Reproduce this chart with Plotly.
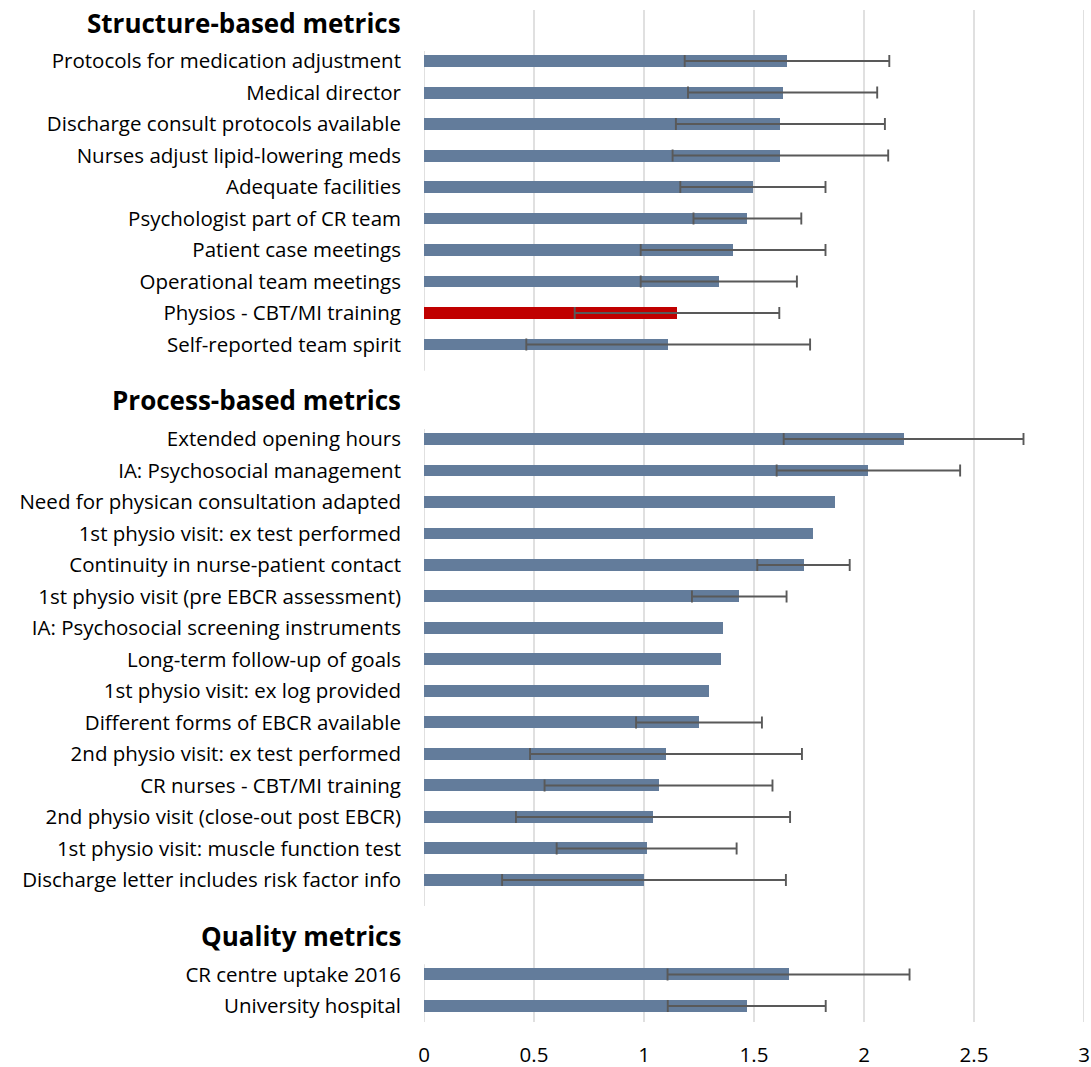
import plotly.graph_objects as go

# ---- data -------------------------------------------------------------
structure_labels = [
    "Protocols for medication adjustment",
    "Medical director",
    "Discharge consult protocols available",
    "Nurses adjust lipid-lowering meds",
    "Adequate facilities",
    "Psychologist part of CR team",
    "Patient case meetings",
    "Operational team meetings",
    "Physios - CBT/MI training",
    "Self-reported team spirit",
]
structure_means = [1.65, 1.63, 1.62, 1.62, 1.495, 1.47, 1.405, 1.34, 1.15, 1.11]
structure_err = [0.465, 0.43, 0.475, 0.49, 0.33, 0.245, 0.42, 0.355, 0.465, 0.645]

process_labels = [
    "Extended opening hours",
    "IA: Psychosocial management",
    "Need for physican consultation adapted",
    "1st physio visit: ex test performed",
    "Continuity in nurse-patient contact",
    "1st physio visit (pre EBCR assessment)",
    "IA: Psychosocial screening instruments",
    "Long-term follow-up of goals",
    "1st physio visit: ex log provided",
    "Different forms of EBCR available",
    "2nd physio visit: ex test performed",
    "CR nurses - CBT/MI training",
    "2nd physio visit (close-out post EBCR)",
    "1st physio visit: muscle function test",
    "Discharge letter includes risk factor info",
]
process_means = [2.18, 2.02, 1.87, 1.77, 1.725, 1.433, 1.36, 1.35, 1.295,
                 1.25, 1.10, 1.066, 1.041, 1.012, 1.00]
process_err = [0.545, 0.417, None, None, 0.21, 0.215, None, None, None,
               0.286, 0.618, 0.518, 0.623, 0.409, 0.645]

quality_labels = ["CR centre uptake 2016", "University hospital"]
quality_means = [1.657, 1.467]
quality_err = [0.55, 0.359]

group_titles = ["Structure-based metrics", "Process-based metrics", "Quality metrics"]
highlighted = "Physios - CBT/MI training"

x_tick_values = [0, 0.5, 1, 1.5, 2, 2.5, 3]
x_tick_text = ["0", "0.5", "1", "1.5", "2", "2.5", "3"]

# ---- styling ------------------------------------------------------------
FONT = "'Open Sans', Lato, sans-serif"
LABEL_SIZE = 20.5
HEADER_SIZE = 26
BAR_COLOR = "#637C9B"
HIGHLIGHT_COLOR = "#C00000"
ERR_COLOR = "#595959"
GRID_COLOR = "#D9D9D9"

groups = [
    (group_titles[0], structure_labels, structure_means, structure_err),
    (group_titles[1], process_labels, process_means, process_err),
    (group_titles[2], quality_labels, quality_means, quality_err),
]

# ---- row layout: spacer, header, rows for every group -------------------
row_pos, row_label, row_mean, row_err = [], [], [], []
header_pos, axis_segments = [], []
slot = -1
for gi, (title, labels, means, errs) in enumerate(groups):
    if gi > 0:
        slot += 1            # empty spacer row
    header_pos.append(slot)
    slot += 1
    first = slot
    for lab, m, e in zip(labels, means, errs):
        row_pos.append(slot)
        row_label.append(lab)
        row_mean.append(m)
        row_err.append(e)
        slot += 1
    axis_segments.append((first - 0.32, slot - 1 + 0.83))

y_top, y_bottom = -1.62, 30.51

bar_colors = [HIGHLIGHT_COLOR if lab == highlighted else BAR_COLOR for lab in row_label]

fig = go.Figure()

fig.add_trace(go.Bar(
    x=row_mean,
    y=row_pos,
    orientation="h",
    width=0.38,
    marker=dict(color=bar_colors, line=dict(width=0)),
    hoverinfo="skip",
    showlegend=False,
))

# error bars only where a spread is available
err_y = [p for p, e in zip(row_pos, row_err) if e is not None]
err_x = [m for m, e in zip(row_mean, row_err) if e is not None]
err_v = [e for e in row_err if e is not None]
fig.add_trace(go.Scatter(
    x=err_x,
    y=err_y,
    mode="markers",
    marker=dict(size=2, color="rgba(0,0,0,0)"),
    error_x=dict(type="data", array=err_v, color=ERR_COLOR, thickness=1.9, width=6),
    hoverinfo="skip",
    showlegend=False,
))

shapes = []
# vertical gridlines (except at zero)
for v in x_tick_values:
    if v == 0:
        continue
    shapes.append(dict(type="line", xref="x", yref="paper", x0=v, x1=v, y0=0, y1=1,
                       line=dict(color=GRID_COLOR, width=1.6), layer="below"))
# category axis line, drawn per group
for y0, y1 in axis_segments:
    shapes.append(dict(type="line", xref="x", yref="y", x0=0, x1=0,
                       y0=y0, y1=min(y1, y_bottom),
                       line=dict(color=GRID_COLOR, width=1.6), layer="below"))

annotations = []
for title, hp in zip(group_titles, header_pos):
    annotations.append(dict(
        text="<b>%s</b>" % title, xref="paper", yref="y", x=0, y=hp,
        xanchor="right", yanchor="middle", xshift=-21, yshift=7,
        showarrow=False, font=dict(family=FONT, size=HEADER_SIZE, color="#000000"),
    ))

fig.update_layout(
    width=1091, height=1067,
    margin=dict(l=424, r=7, t=10, b=45, autoexpand=False),
    paper_bgcolor="white", plot_bgcolor="white",
    font=dict(family=FONT, size=LABEL_SIZE, color="#000000"),
    shapes=shapes,
    annotations=annotations,
    bargap=0,
)

fig.update_xaxes(
    range=[0, 3], tickvals=x_tick_values, ticktext=x_tick_text,
    showgrid=False, zeroline=False, showline=False, ticks="",
    ticklabelstandoff=18, automargin=False,
    tickfont=dict(family=FONT, size=LABEL_SIZE, color="#000000"),
    fixedrange=True,
)
fig.update_yaxes(
    range=[y_bottom, y_top], tickvals=row_pos, ticktext=row_label,
    showgrid=False, zeroline=False, showline=False, ticks="",
    ticklabelstandoff=22, automargin=False,
    tickfont=dict(family=FONT, size=LABEL_SIZE, color="#000000"),
    fixedrange=True,
)

fig.write_html("out.html")
